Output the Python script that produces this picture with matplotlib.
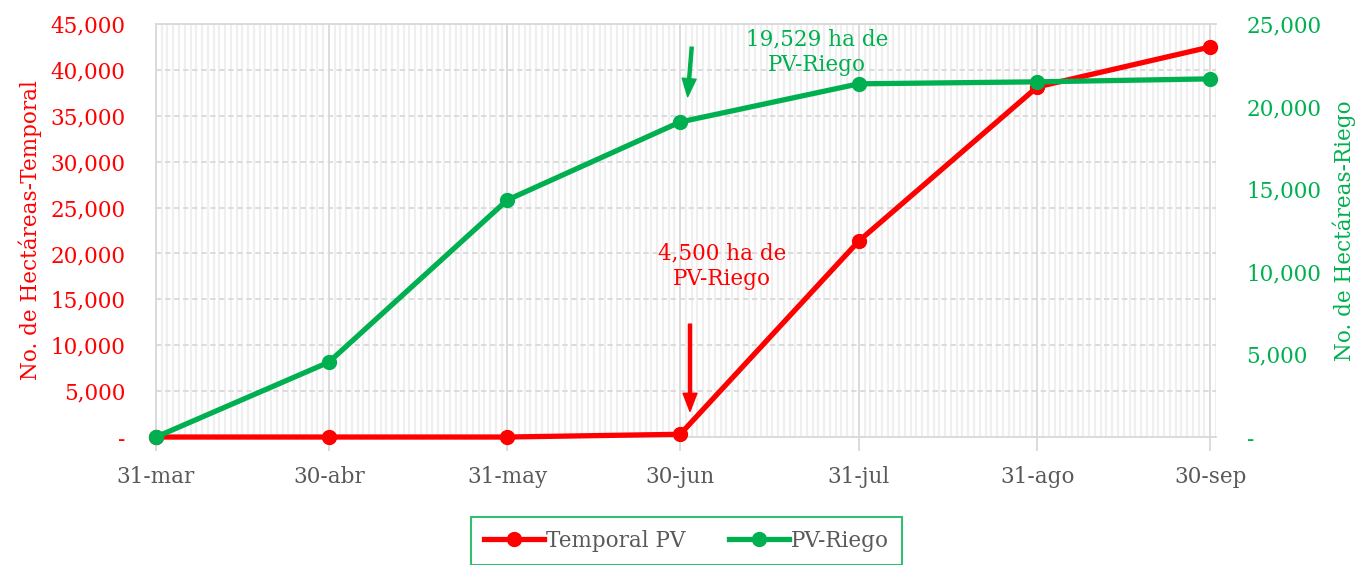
import datetime as dt
import matplotlib
matplotlib.use("Agg")
import matplotlib.pyplot as plt
import matplotlib.dates as mdates
from matplotlib.ticker import FuncFormatter, MultipleLocator

plt.rcParams['font.family'] = ['DejaVu Serif']

# data
fechas = ["2023-03-31", "2023-04-30", "2023-05-31", "2023-06-30",
          "2023-07-31", "2023-08-31", "2023-09-30"]
etiquetas = ["31-mar", "30-abr", "31-may", "30-jun", "31-jul", "31-ago", "30-sep"]
temporal = [0, 0, 0, 300, 21350, 38150, 42500]
riego = [0, 4530, 14350, 19070, 21380, 21500, 21680]

ROJO = "#FF0000"
VERDE = "#00B050"
GRIS = "#595959"
FS = 15.5

x = [dt.datetime.strptime(f, "%Y-%m-%d") for f in fechas]

fig = plt.figure(figsize=(13.67, 5.65), dpi=100)
ax = fig.add_axes([0.1141, 0.2265, 0.7754, 0.731])
ax2 = ax.twinx()

def fmt(v, pos):
    return "-" if abs(v) < 1e-9 else f"{int(v):,}"

# grid
ax.set_xlim(x[0], x[-1] + dt.timedelta(days=1))
ax.set_xticks([mdates.date2num(d) for d in x])
ax.set_xticklabels(etiquetas)
ax.xaxis.set_minor_locator(MultipleLocator(1))
ax.grid(which="minor", axis="x", color="#efefef", lw=1.6, zorder=0)
ax.grid(which="major", axis="x", color="#d9d9d9", lw=1.3, zorder=0)
ax.grid(which="major", axis="y", color="#d9d9d9", lw=1.3, ls=(0, (3, 2)), zorder=0)
ax.set_axisbelow(True)

ax.set_ylim(0, 45000)
ax.yaxis.set_major_locator(MultipleLocator(5000))
ax.yaxis.set_major_formatter(FuncFormatter(fmt))
ax2.set_ylim(0, 25000)
ax2.yaxis.set_major_locator(MultipleLocator(5000))
ax2.yaxis.set_major_formatter(FuncFormatter(fmt))

for s in ax.spines.values():
    s.set_color("#d9d9d9")
    s.set_linewidth(1.3)
ax.spines["right"].set_visible(False)
for s in ax2.spines.values():
    s.set_visible(False)

ax.tick_params(axis="x", which="major", length=10, color="#d9d9d9", width=1.3,
               labelcolor=GRIS, labelsize=FS, pad=11)
ax.tick_params(axis="x", which="minor", length=0)
ax.tick_params(axis="y", length=0, labelcolor=ROJO, labelsize=FS, pad=22)
ax2.tick_params(axis="y", length=0, labelcolor=VERDE, labelsize=FS, pad=22)

ax.set_ylabel("No. de Hectáreas-Temporal", color=ROJO, fontsize=FS, labelpad=6)
ax2.set_ylabel("No. de Hectáreas-Riego", color=VERDE, fontsize=FS, labelpad=8)

# series
l1, = ax.plot(x, temporal, color=ROJO, lw=3.8, marker="o", ms=10,
              label="Temporal PV", zorder=4, clip_on=False)
l2, = ax2.plot(x, riego, color=VERDE, lw=3.8, marker="o", ms=10,
               label="PV-Riego", zorder=3, clip_on=False)

# annotations
d0 = x[0]
ax2.annotate("", xy=(d0 + dt.timedelta(days=92.3), 20600),
             xytext=(d0 + dt.timedelta(days=93.0), 23600),
             arrowprops=dict(facecolor=VERDE, edgecolor=VERDE, width=2.2,
                             headwidth=10, headlength=13))
ax2.text(d0 + dt.timedelta(days=114.7), 23300, "19,529 ha de\nPV-Riego",
         color=VERDE, fontsize=FS, ha="center", va="center", linespacing=1.2)
ax2.annotate("", xy=(d0 + dt.timedelta(days=92.7), 2800 * 25 / 45),
             xytext=(d0 + dt.timedelta(days=92.7), 12300 * 25 / 45),
             arrowprops=dict(facecolor=ROJO, edgecolor=ROJO, width=2.2,
                             headwidth=10, headlength=13))
ax.text(d0 + dt.timedelta(days=98.3), 18600, "4,500 ha de\nPV-Riego",
        color=ROJO, fontsize=FS, ha="center", va="center", linespacing=1.2)

leg = fig.legend(handles=[l1, l2], loc="upper center", bbox_to_anchor=(0.502, 0.085),
                 ncol=2, frameon=True, fancybox=False, fontsize=FS,
                 handlelength=2.8, handletextpad=0.1, columnspacing=2.0,
                 borderpad=0.6, borderaxespad=0, labelcolor=GRIS)
leg.get_frame().set_edgecolor(VERDE)
leg.get_frame().set_linewidth(1.5)

fig.savefig("out.png", dpi=100)
